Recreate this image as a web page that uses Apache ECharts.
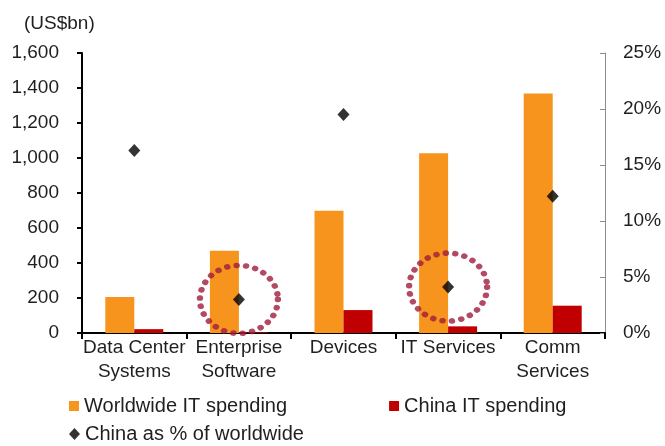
<!DOCTYPE html>
<html>
<head>
<meta charset="utf-8">
<script src="https://cdn.jsdelivr.net/npm/echarts@6/dist/echarts.min.js"></script>
<style>
  html, body { margin: 0; padding: 0; background: #ffffff; }
  #chart { width: 665px; height: 446px; }
</style>
</head>
<body>
<div id="chart"></div>
<script>
// IT spending by segment (US$bn) and China's share of the worldwide total
const categories = ['Data Center\nSystems', 'Enterprise\nSoftware', 'Devices', 'IT Services', 'Comm\nServices'];
const worldwideSpending = [206, 470, 698, 1027, 1368];
const chinaSpending = [22, 4, 131, 38, 156];
const chinaSharePct = [16.3, 3.0, 19.5, 4.1, 12.2];
// segments circled for emphasis (share value repeated, null elsewhere)
const highlightedShare = [null, 3.0, null, 4.1, null];

const leftTicks = { min: 0, max: 1600, interval: 200 };
const rightTicks = { min: 0, max: 25, interval: 5 };

const FONT = '"Liberation Sans", Arial, sans-serif';
const TEXT = '#1f1f1f';

const chart = echarts.init(document.getElementById('chart'), null, { renderer: 'canvas' });

chart.setOption({
  animation: false,
  backgroundColor: '#ffffff',
  textStyle: { fontFamily: FONT, color: TEXT },
  title: {
    text: '(US$bn)',
    left: 19,
    top: 9,
    textStyle: { fontFamily: FONT, fontSize: 19, fontWeight: 'normal', color: TEXT }
  },
  grid: { left: 82, right: 60, top: 53, bottom: 113, containLabel: false },
  legend: [
    {
      data: ['Worldwide IT spending', 'China IT spending'],
      left: 64,
      top: 391,
      icon: 'rect',
      itemWidth: 10,
      itemHeight: 10,
      itemGap: 102,
      textStyle: { fontFamily: FONT, fontSize: 20, color: TEXT }
    },
    {
      data: ['China as % of worldwide'],
      left: 64,
      top: 419,
      icon: 'diamond',
      itemWidth: 11,
      itemHeight: 12,
      textStyle: { fontFamily: FONT, fontSize: 20, color: TEXT }
    }
  ],
  xAxis: {
    type: 'category',
    data: categories,
    axisLine: { lineStyle: { color: '#000000', width: 2 } },
    axisTick: { show: true, length: 6, lineStyle: { color: '#000000', width: 2 } },
    axisLabel: {
      interval: 0,
      margin: 3,
      fontFamily: FONT,
      fontSize: 19,
      lineHeight: 24,
      color: TEXT
    }
  },
  yAxis: [
    {
      type: 'value',
      min: leftTicks.min,
      max: leftTicks.max,
      interval: leftTicks.interval,
      splitLine: { show: false },
      axisLine: { show: true, lineStyle: { color: '#000000', width: 2 } },
      axisTick: { show: true, length: 5, lineStyle: { color: '#000000', width: 2 } },
      axisLabel: {
        margin: 23,
        fontFamily: FONT,
        fontSize: 19,
        color: TEXT,
        formatter: v => v.toLocaleString('en-US')
      }
    },
    {
      type: 'value',
      position: 'right',
      min: rightTicks.min,
      max: rightTicks.max,
      interval: rightTicks.interval,
      splitLine: { show: false },
      axisLine: { show: true, lineStyle: { color: '#8c8c8c', width: 1 } },
      axisTick: { show: true, inside: true, length: 5, lineStyle: { color: '#8c8c8c' } },
      axisLabel: {
        margin: 18,
        fontFamily: FONT,
        fontSize: 19,
        color: TEXT,
        formatter: '{value}%'
      }
    }
  ],
  series: [
    {
      name: 'Worldwide IT spending',
      type: 'bar',
      data: worldwideSpending,
      barWidth: 29,
      barGap: '0%',
      itemStyle: { color: '#F7941E' }
    },
    {
      name: 'China IT spending',
      type: 'bar',
      data: chinaSpending,
      barWidth: 29,
      barGap: '0%',
      itemStyle: { color: '#C00000' }
    },
    {
      name: 'highlight',
      type: 'scatter',
      yAxisIndex: 1,
      data: highlightedShare,
      symbol: 'circle',
      symbolSize: [78, 68],
      z: 3,
      silent: true,
      itemStyle: {
        color: 'rgba(0,0,0,0)',
        borderColor: '#A01C3C',
        borderWidth: 6,
        borderType: [0.1, 8.8],
        borderCap: 'round'
      }
    },
    {
      name: 'China as % of worldwide',
      type: 'scatter',
      yAxisIndex: 1,
      data: chinaSharePct,
      symbol: 'diamond',
      symbolSize: [12, 13],
      z: 4,
      itemStyle: { color: '#000000' }
    }
  ]
});
</script>
</body>
</html>
